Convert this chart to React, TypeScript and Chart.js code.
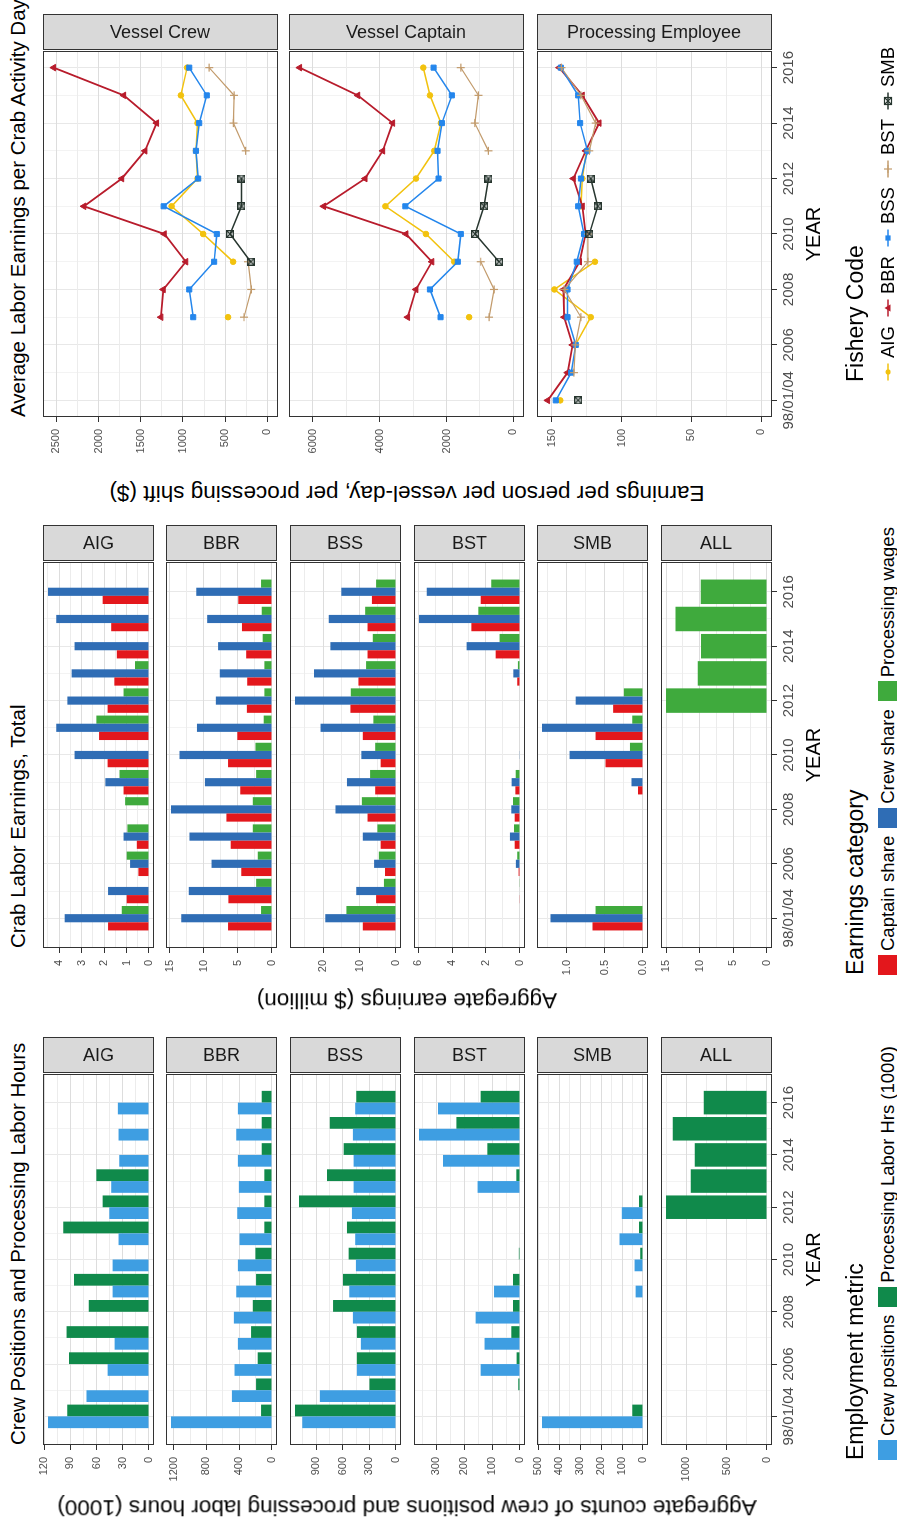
import React, { useEffect, useRef } from 'react';
import { Chart, registerables } from 'chart.js';

Chart.register(...registerables);

const FONT = "'Liberation Sans', Arial, Helvetica, sans-serif";
Chart.defaults.font.family = FONT;

// ---------- shared x axis ----------
const YEARS = [2004, 2005, 2006, 2007, 2008, 2009, 2010, 2011, 2012, 2013, 2014, 2015, 2016];
const YEAR_TICKS = [2004, 2006, 2008, 2010, 2012, 2014, 2016];
const YEAR_TICK_LABELS = ['98/01/04', '2006', '2008', '2010', '2012', '2014', '2016'];

// ---------- crew positions (count) and processing labor hours (1000) ----------
const CREW_POS_AIG = [115.5, 71.5, 47.3, 39.3, null, 41.6, 41.6, 34.8, 45.4, 43.2, 34, 34.8, 35.6];
const PROC_HRS_AIG = [93.5, null, 91.6, 94.3, 68.9, 85.9, null, 98, 53, 60.2, null, null, null];
const CREW_POS_BBR = [1232, 489, 457, 416, 465, 436, 416, 396, 424, 404, 416, 436, 416];
const PROC_HRS_BBR = [133, 194, 174, 255, 234, 194, 202, 93, 93, 93, 125, 125, 125];
const CREW_POS_BSS = [1057, 859, 441, 396, 486, 527, 452, 460, 497, 478, 478, 486, 460];
const PROC_HRS_BSS = [1139, 299, 441, 441, 710, 598, 534, 553, 1095, 777, 590, 747, 448];
const CREW_POS_BST = [null, null, 141, 127, 159, 93, null, null, null, 152, 276, 362, 294];
const PROC_HRS_BST = [null, 6, 12, 31, 25, 25, 4, null, null, 13, 117, 228, 141];
const CREW_POS_SMB = [482, null, null, null, null, 35, 40, 112, 101, null, null, null, null];
const PROC_HRS_SMB = [51, null, null, null, null, null, 13, 19, 19, null, null, null, null];
const PROC_HRS_ALL = [null, null, null, null, null, null, null, null, 1253, 947, 898, 1171, 784];

const EMP_TICKS_AIG = [0, 30, 60, 90, 120];
const EMP_TICKS_BBR = [0, 400, 800, 1200];
const EMP_TICKS_BSS = [0, 300, 600, 900];
const EMP_TICKS_BST = [0, 100, 200, 300];
const EMP_TICKS_SMB = [0, 100, 200, 300, 400, 500];
const EMP_TICKS_ALL = [0, 500, 1000];

// ---------- crab labor earnings, total ($ million) ----------
const CAPT_AIG = [1.82, 0.99, 0.47, 0.54, null, 1.13, 1.84, 2.22, 1.84, 1.54, 1.43, 1.68, 2.06];
const CREW_AIG = [3.75, 1.82, 0.84, 1.13, null, 1.94, 3.31, 4.13, 3.63, 3.44, 3.31, 4.12, 4.49];
const PROC_AIG = [1.21, null, 0.99, 0.96, 1.06, 1.31, null, 2.34, 1.13, 0.62, null, null, null];
const CAPT_BBR = [6.44, 6.39, 4.5, 6.05, 6.68, 4.65, 6.44, 5.08, 3.68, 3.63, 3.78, 4.4, 4.94];
const CREW_BBR = [13.3, 12.2, 8.86, 12.1, 14.8, 9.83, 13.55, 11.0, 8.23, 7.65, 7.9, 9.5, 11.1];
const PROC_BBR = [1.6, 2.32, 2.08, 2.81, 2.81, 2.32, 2.42, 1.21, 1.11, 1.11, 1.36, 1.5, 1.6];
const CAPT_BSS = [9.1, 5.45, 3.0, 4.2, 7.8, 5.7, 4.2, 9.1, 12.5, 10.3, 7.8, 7.8, 6.6];
const CREW_BSS = [19.4, 10.9, 6.0, 9.1, 16.6, 13.45, 9.5, 20.7, 27.7, 22.5, 18.0, 18.45, 15.0];
const PROC_BSS = [13.6, 3.3, 4.7, 5.1, 9.36, 7.1, 5.7, 6.2, 12.4, 8.2, 6.36, 8.45, 5.45];
const CAPT_BST = [null, 0.02, 0.08, 0.31, 0.31, 0.27, null, null, null, 0.16, 1.43, 2.86, 2.31];
const CREW_BST = [null, null, 0.24, 0.59, 0.51, 0.49, 0.02, null, null, 0.39, 3.14, 5.94, 5.49];
const PROC_BST = [null, 0.04, 0.16, 0.35, 0.41, 0.25, 0.03, null, null, 0.12, 1.2, 2.45, 1.69];
const CAPT_SMB = [0.66, null, null, null, null, 0.065, 0.49, 0.62, 0.39, null, null, null, null];
const CREW_SMB = [1.21, null, null, null, null, 0.15, 0.96, 1.32, 0.88, null, null, null, null];
const PROC_SMB = [0.62, null, null, null, null, null, 0.17, 0.14, 0.25, null, null, null, null];
const PROC_ALL = [null, null, null, null, null, null, null, null, 15.0, 10.3, 9.8, 13.6, 9.84];

const EARN_TICKS_AIG = [0, 1, 2, 3, 4];
const EARN_TICKS_BBR = [0, 5, 10, 15];
const EARN_TICKS_BSS = [0, 10, 20];
const EARN_TICKS_BST = [0, 2, 4, 6];
const EARN_TICKS_SMB = [0, 0.5, 1.0];
const EARN_TICKS_ALL = [0, 5, 10, 15];

// ---------- average labor earnings per crab activity day ($) ----------
const VCREW_AIG = [null, null, null, 465, null, 405, 760, 1134, 827, 846, 827, 1024, 950];
const VCREW_BBR = [null, null, null, 1260, 1232, 965, 1220, 2173, 1724, 1449, 1311, 1701, 2531];
const VCREW_BSS = [null, null, null, 878, 925, 630, 598, 1228, 819, 846, 807, 717, 925];
const VCREW_BST = [null, null, null, 276, 189, 228, null, null, null, 256, 402, 394, 689];
const VCREW_SMB = [null, null, null, null, null, 197, 441, 307, 307, null, null, null, null];

const VCAPT_AIG = [null, null, null, 1323, null, 1771, 2617, 3831, 2915, 2368, 2169, 2497, 2696];
const VCAPT_BBR = [null, null, null, 3164, 2915, 2438, 3214, 5681, 4438, 3910, 3612, 4657, 6398];
const VCAPT_BSS = [null, null, null, 2179, 2497, 1662, 1572, 3234, 2239, 2269, 2139, 1841, 2388];
const VCAPT_BST = [null, null, null, 726, 577, 975, null, null, null, 746, 1154, 1045, 1572];
const VCAPT_SMB = [null, null, null, null, null, 428, 1144, 876, 746, null, null, null, null];

const PEMP_AIG = [143.8, null, 133, 122, 148, 119, null, 129, 128, 125, null, null, null];
const PEMP_BBR = [152.8, 138.6, 135, 141, 141.5, 130, 125.6, 128, 134.4, 125.6, 116, 128, 144.5];
const PEMP_BSS = [147, 136, 132.7, 138.6, 138.6, 132, 126.8, 131, 129, 124.4, 129.6, 131, 143.4];
const PEMP_BST = [null, 134, 133, 129, 141, 124, 124, null, null, 123, 118.5, 129, 143];
const PEMP_SMB = [131, null, null, null, null, null, 123, 117, 122, null, null, null, null];

const AVG_TICKS_CREW = [0, 500, 1000, 1500, 2000, 2500];
const AVG_TICKS_CAPTAIN = [0, 2000, 4000, 6000];
const AVG_TICKS_PROC = [0, 50, 100, 150];

// ---------- colours ----------
const C_CREW_POS = '#3E9EE2';
const C_PROC_HRS = '#108A4B';
const C_CAPTAIN = '#E3171C';
const C_CREW_SHARE = '#2F6DB5';
const C_PROC_WAGES = '#3FAA3D';
const C_AIG = '#F2C20E';
const C_BBR = '#B81C2C';
const C_BSS = '#2486EC';
const C_BST = '#C29B6C';
const C_SMB = '#27362F';

type Shape = 'circle' | 'triangle' | 'rect' | 'cross' | 'rectCross';
interface Series { label: string; color: string; values: (number | null)[]; shape?: Shape; width?: number }
interface FacetSpec { strip: string; series: Series[]; majors: number[]; fmt?: (v: number) => string }

// ---------- layout (landscape frame, rotated onto the page) ----------
const FRAME_W = 1533;
const FRAME_H = 897;
const AX = 60;
const PT = 20;
const PR = 20;
const PB = 20;
const XH = 34;
const STRIP_W = 36;
const ROWS6 = [43, 166, 290, 414, 537, 661];
const ROW6_H = 111;
const ROWS3 = [43, 289, 537];
const ROW3_H = 235;
const COL1 = { x0: 88, x1: 459 };
const COL2 = { x0: 585, x1: 971 };
const COL3 = { x0: 1116, x1: 1482 };
const BAR_X = [2002.905, 2017.095];
const LINE_X = [2003.4, 2016.6];

const panelFrame = {
  id: 'panelFrame',
  afterDraw(chart: any) {
    const { ctx, chartArea: a } = chart;
    ctx.save();
    ctx.strokeStyle = '#333333';
    ctx.lineWidth = 1;
    const l = Math.round(a.left) + 0.5;
    const t = Math.round(a.top) + 0.5;
    ctx.strokeRect(l, t, Math.round(a.right) - Math.round(a.left) - 1, Math.round(a.bottom) - Math.round(a.top) - 1);
    ctx.restore();
  },
};

function squareCross(color: string): HTMLCanvasElement {
  const s = 8;
  const c = document.createElement('canvas');
  c.width = s;
  c.height = s;
  const g = c.getContext('2d')!;
  g.strokeStyle = color;
  g.lineWidth = 1.3;
  g.strokeRect(0.65, 0.65, s - 1.3, s - 1.3);
  g.beginPath();
  g.moveTo(1, 1);
  g.lineTo(s - 1, s - 1);
  g.moveTo(s - 1, 1);
  g.lineTo(1, s - 1);
  g.stroke();
  return c;
}

function valueRange(series: Series[]): [number, number] {
  let hi = 0;
  let lo = 0;
  series.forEach((s) => s.values.forEach((v) => {
    if (v != null) { hi = Math.max(hi, v); lo = Math.min(lo, v); }
  }));
  const pad = (hi - lo) * 0.05;
  return [lo - pad, hi + pad];
}

const near = (list: number[], v: number) => list.some((m) => Math.abs(m - v) < 1e-9);

function buildConfig(kind: 'bar' | 'line', spec: FacetSpec, showX: boolean, xr: number[]) {
  const [lo, hi] = valueRange(spec.series);
  const majors = spec.majors;
  const step = majors[1] - majors[0];
  const minors = [majors[0] - step / 2, ...majors.map((v) => v + step / 2)].filter((v) => v > lo && v < hi);
  const yTicks = [...majors, ...minors].sort((a, b) => a - b);
  const fmt = spec.fmt || ((v: number) => String(v));
  const n = spec.series.length;

  const datasets = spec.series.map((s, i) => {
    const data = YEARS.map((x, k) => ({ x, y: s.values[k] }));
    if (kind === 'bar') {
      return {
        label: s.label, data, backgroundColor: s.color, borderWidth: 0,
        categoryPercentage: 0.9, barPercentage: 1.0,
      };
    }
    let pointStyle: any = s.shape || 'circle';
    let pointRadius = 2.8;
    let pointBorderWidth = 1;
    if (s.shape === 'triangle') pointRadius = 3.8;
    if (s.shape === 'rect') pointRadius = 3.6;
    if (s.shape === 'cross') { pointRadius = 4; pointBorderWidth = 1.2; }
    if (s.shape === 'rectCross') { pointStyle = squareCross(s.color); pointRadius = 4; }
    return {
      label: s.label, data, borderColor: s.color, backgroundColor: s.color,
      borderWidth: s.width ?? 1.5, pointStyle, pointRadius, pointBorderWidth,
      pointBackgroundColor: s.color, pointBorderColor: s.color,
      spanGaps: false, tension: 0, fill: false, order: n - i,
    };
  });

  return {
    type: kind,
    data: { datasets },
    options: {
      animation: false,
      responsive: false,
      maintainAspectRatio: false,
      events: [],
      layout: { padding: { left: 0, top: PT, right: PR, bottom: showX ? 0 : PB } },
      plugins: { legend: { display: false }, tooltip: { enabled: false } },
      scales: {
        x: {
          type: 'linear', min: xr[0], max: xr[1], offset: false,
          afterBuildTicks: (s: any) => { s.ticks = YEARS.map((v) => ({ value: v })); },
          afterFit: (s: any) => { s.height = showX ? XH : 0; },
          ticks: {
            display: showX, autoSkip: false, maxRotation: 0, minRotation: 0, padding: 3,
            font: { size: 15 }, color: '#4D4D4D',
            callback: (v: number) => {
              const k = YEAR_TICKS.indexOf(v);
              return k >= 0 ? YEAR_TICK_LABELS[k] : '';
            },
          },
          grid: {
            offset: false, drawTicks: showX, tickLength: 5, lineWidth: 1,
            color: (c: any) => (near(YEAR_TICKS, c.tick.value) ? '#E8E8E8' : '#F3F3F3'),
            tickColor: (c: any) => (near(YEAR_TICKS, c.tick.value) ? '#333333' : 'rgba(0,0,0,0)'),
          },
          border: { display: false },
        },
        y: {
          type: 'linear', min: lo, max: hi,
          afterBuildTicks: (s: any) => { s.ticks = yTicks.map((v) => ({ value: v })); },
          afterFit: (s: any) => { s.width = AX; },
          ticks: {
            autoSkip: false, padding: 7, font: { size: 11 }, color: '#4D4D4D',
            callback: (v: number) => (near(majors, v) ? fmt(v) : ''),
          },
          grid: {
            tickLength: 5, lineWidth: 1,
            color: (c: any) => (near(majors, c.tick.value) ? '#DDDDDD' : '#ECECEC'),
            tickColor: (c: any) => (near(majors, c.tick.value) ? '#333333' : 'rgba(0,0,0,0)'),
          },
          border: { display: false },
        },
      },
    },
    plugins: [panelFrame],
  };
}

interface FacetProps {
  kind: 'bar' | 'line';
  spec: FacetSpec;
  col: { x0: number; x1: number };
  y0: number;
  h: number;
  showX: boolean;
  xr: number[];
}

function Facet({ kind, spec, col, y0, h, showX, xr }: FacetProps) {
  const ref = useRef<HTMLCanvasElement>(null);
  const w = col.x1 - col.x0 + AX + PR;
  const ch = h + PT + (showX ? XH : PB);
  useEffect(() => {
    const chart = new Chart(ref.current as HTMLCanvasElement, buildConfig(kind, spec, showX, xr) as any);
    return () => chart.destroy();
  }, []);
  return (
    <>
      <canvas
        ref={ref}
        width={w}
        height={ch}
        style={{ position: 'absolute', left: col.x0 - AX, top: y0 - PT, width: w, height: ch }}
      />
      <div
        style={{
          position: 'absolute', left: col.x1 + 1, top: y0, width: STRIP_W, height: h,
          background: '#D9D9D9', border: '1px solid #333', boxSizing: 'border-box',
          display: 'flex', alignItems: 'center', justifyContent: 'center',
        }}
      >
        <span style={{ writingMode: 'vertical-rl', fontSize: 18, color: '#1A1A1A', whiteSpace: 'nowrap', lineHeight: 1 }}>
          {spec.strip}
        </span>
      </div>
    </>
  );
}

// ---------- facet specs ----------
const S_CREW_POS = 'Crew positions';
const S_PROC_HRS = 'Processing Labor Hrs (1000)';
const emp = (crew: (number | null)[] | null, proc: (number | null)[]): Series[] => [
  ...(crew ? [{ label: S_CREW_POS, color: C_CREW_POS, values: crew }] : []),
  { label: S_PROC_HRS, color: C_PROC_HRS, values: proc },
];
const EMP_FACETS: FacetSpec[] = [
  { strip: 'AIG', series: emp(CREW_POS_AIG, PROC_HRS_AIG), majors: EMP_TICKS_AIG },
  { strip: 'BBR', series: emp(CREW_POS_BBR, PROC_HRS_BBR), majors: EMP_TICKS_BBR },
  { strip: 'BSS', series: emp(CREW_POS_BSS, PROC_HRS_BSS), majors: EMP_TICKS_BSS },
  { strip: 'BST', series: emp(CREW_POS_BST, PROC_HRS_BST), majors: EMP_TICKS_BST },
  { strip: 'SMB', series: emp(CREW_POS_SMB, PROC_HRS_SMB), majors: EMP_TICKS_SMB },
  { strip: 'ALL', series: emp(null, PROC_HRS_ALL), majors: EMP_TICKS_ALL },
];

const S_CAPT = 'Captain share';
const S_CREW = 'Crew share';
const S_PROC = 'Processing wages';
const earn = (capt: (number | null)[] | null, crew: (number | null)[] | null, proc: (number | null)[]): Series[] => [
  ...(capt ? [{ label: S_CAPT, color: C_CAPTAIN, values: capt }] : []),
  ...(crew ? [{ label: S_CREW, color: C_CREW_SHARE, values: crew }] : []),
  { label: S_PROC, color: C_PROC_WAGES, values: proc },
];
const EARN_FACETS: FacetSpec[] = [
  { strip: 'AIG', series: earn(CAPT_AIG, CREW_AIG, PROC_AIG), majors: EARN_TICKS_AIG },
  { strip: 'BBR', series: earn(CAPT_BBR, CREW_BBR, PROC_BBR), majors: EARN_TICKS_BBR },
  { strip: 'BSS', series: earn(CAPT_BSS, CREW_BSS, PROC_BSS), majors: EARN_TICKS_BSS },
  { strip: 'BST', series: earn(CAPT_BST, CREW_BST, PROC_BST), majors: EARN_TICKS_BST },
  { strip: 'SMB', series: earn(CAPT_SMB, CREW_SMB, PROC_SMB), majors: EARN_TICKS_SMB, fmt: (v) => v.toFixed(1) },
  { strip: 'ALL', series: earn(null, null, PROC_ALL), majors: EARN_TICKS_ALL },
];

const FISHERIES: { label: string; color: string; shape: Shape; width: number }[] = [
  { label: 'AIG', color: C_AIG, shape: 'circle', width: 1.5 },
  { label: 'BBR', color: C_BBR, shape: 'triangle', width: 1.8 },
  { label: 'BSS', color: C_BSS, shape: 'rect', width: 1.5 },
  { label: 'BST', color: C_BST, shape: 'cross', width: 1.2 },
  { label: 'SMB', color: C_SMB, shape: 'rectCross', width: 1.5 },
];
const avg = (vals: (number | null)[][]): Series[] => FISHERIES.map((f, i) => ({ ...f, values: vals[i] }));
const AVG_FACETS: FacetSpec[] = [
  { strip: 'Vessel Crew', series: avg([VCREW_AIG, VCREW_BBR, VCREW_BSS, VCREW_BST, VCREW_SMB]), majors: AVG_TICKS_CREW },
  { strip: 'Vessel Captain', series: avg([VCAPT_AIG, VCAPT_BBR, VCAPT_BSS, VCAPT_BST, VCAPT_SMB]), majors: AVG_TICKS_CAPTAIN },
  { strip: 'Processing Employee', series: avg([PEMP_AIG, PEMP_BBR, PEMP_BSS, PEMP_BST, PEMP_SMB]), majors: AVG_TICKS_PROC },
];

// ---------- text and legend pieces ----------
function Title({ x, text }: { x: number; text: string }) {
  return (
    <div style={{ position: 'absolute', left: x, top: 6, fontSize: 20.5, lineHeight: '24px', whiteSpace: 'nowrap', color: '#000' }}>
      {text}
    </div>
  );
}

function YTitle({ cx, text }: { cx: number; text: string }) {
  return (
    <div
      style={{
        position: 'absolute', left: cx, top: 407, fontSize: 22.5, lineHeight: 1, whiteSpace: 'nowrap', color: '#000',
        transform: 'translate(-50%, -50%) rotate(-90deg)',
      }}
    >
      {text}
    </div>
  );
}

function XTitle({ col }: { col: { x0: number; x1: number } }) {
  return (
    <div
      style={{
        position: 'absolute', left: (col.x0 + col.x1) / 2, top: 801, fontSize: 20, lineHeight: '24px',
        transform: 'translateX(-50%)', whiteSpace: 'nowrap', color: '#000',
      }}
    >
      YEAR
    </div>
  );
}

function KeyMark({ shape, color }: { shape: Shape; color: string }) {
  let mark: React.ReactNode = null;
  if (shape === 'circle') mark = <circle cx={10} cy={10} r={2.6} fill={color} />;
  if (shape === 'triangle') mark = <polygon points="10,6.4 13.6,12.6 6.4,12.6" fill={color} />;
  if (shape === 'rect') mark = <rect x={7.4} y={7.4} width={5.2} height={5.2} fill={color} />;
  if (shape === 'cross') mark = <path d="M10 6V14M6 10H14" stroke={color} strokeWidth={1.2} />;
  if (shape === 'rectCross') {
    mark = (
      <g stroke={color} strokeWidth={1.2} fill="none">
        <rect x={6.5} y={6.5} width={7} height={7} />
        <path d="M6.5 6.5L13.5 13.5M13.5 6.5L6.5 13.5" />
      </g>
    );
  }
  return (
    <svg width={20} height={20} style={{ display: 'block' }}>
      <line x1={1.5} y1={10} x2={18.5} y2={10} stroke={color} strokeWidth={1.5} />
      {mark}
    </svg>
  );
}

interface LegendItem { label: string; color: string; shape?: Shape }

function Legend({ title, x, items }: { title: string; x: number; items: LegendItem[] }) {
  return (
    <>
      <div style={{ position: 'absolute', left: x, top: 842, fontSize: 23, lineHeight: '26px', whiteSpace: 'nowrap', color: '#000' }}>
        {title}
      </div>
      <div style={{ position: 'absolute', left: x, top: 878, display: 'flex', alignItems: 'center', whiteSpace: 'nowrap' }}>
        {items.map((it) => (
          <div key={it.label} style={{ display: 'flex', alignItems: 'center', marginRight: 8 }}>
            <div style={{ width: 20, height: 20, background: it.shape ? '#FFFFFF' : it.color }}>
              {it.shape ? <KeyMark shape={it.shape} color={it.color} /> : null}
            </div>
            <span style={{ marginLeft: 4, fontSize: 18.5, lineHeight: '20px', color: '#000' }}>{it.label}</span>
          </div>
        ))}
      </div>
    </>
  );
}

const EMP_LEGEND_X = 73;
const EARN_LEGEND_X = 558;
const AVG_LEGEND_X = 1151;

export default function App() {
  useEffect(() => {
    document.body.style.margin = '0';
  }, []);

  return (
    <div style={{ position: 'fixed', left: 0, top: 0, width: FRAME_H, height: FRAME_W, overflow: 'hidden', background: '#FFFFFF' }}>
      <div
        style={{
          position: 'absolute', left: 0, top: 0, width: FRAME_W, height: FRAME_H, overflow: 'hidden',
          transformOrigin: '0 0', transform: `translate(0px, ${FRAME_W}px) rotate(-90deg)`,
          fontFamily: FONT, background: '#FFFFFF',
        }}
      >
        <Title x={COL1.x0} text="Crew Positions and Processing Labor Hours" />
        <Title x={COL2.x0} text="Crab Labor Earnings, Total" />
        <Title x={COL3.x0} text="Average Labor Earnings per Crab Activity Day" />

        {EMP_FACETS.map((f, i) => (
          <Facet key={'e' + f.strip} kind="bar" spec={f} col={COL1} y0={ROWS6[i]} h={ROW6_H} showX={i === ROWS6.length - 1} xr={BAR_X} />
        ))}
        {EARN_FACETS.map((f, i) => (
          <Facet key={'r' + f.strip} kind="bar" spec={f} col={COL2} y0={ROWS6[i]} h={ROW6_H} showX={i === ROWS6.length - 1} xr={BAR_X} />
        ))}
        {AVG_FACETS.map((f, i) => (
          <Facet key={'a' + f.strip} kind="line" spec={f} col={COL3} y0={ROWS3[i]} h={ROW3_H} showX={i === ROWS3.length - 1} xr={LINE_X} />
        ))}

        <YTitle cx={26} text="Aggregate counts of crew positions and processing labor hours (1000)" />
        <YTitle cx={533} text="Aggregate earnings ($ million)" />
        <YTitle cx={1040} text="Earnings per person per vessel-day, per processing shift ($)" />

        <XTitle col={COL1} />
        <XTitle col={COL2} />
        <XTitle col={COL3} />

        <Legend
          title="Employment metric"
          x={EMP_LEGEND_X}
          items={[
            { label: S_CREW_POS, color: C_CREW_POS },
            { label: S_PROC_HRS, color: C_PROC_HRS },
          ]}
        />
        <Legend
          title="Earnings category"
          x={EARN_LEGEND_X}
          items={[
            { label: S_CAPT, color: C_CAPTAIN },
            { label: S_CREW, color: C_CREW_SHARE },
            { label: S_PROC, color: C_PROC_WAGES },
          ]}
        />
        <Legend
          title="Fishery Code"
          x={AVG_LEGEND_X}
          items={FISHERIES.map((f) => ({ label: f.label, color: f.color, shape: f.shape }))}
        />
      </div>
    </div>
  );
}
